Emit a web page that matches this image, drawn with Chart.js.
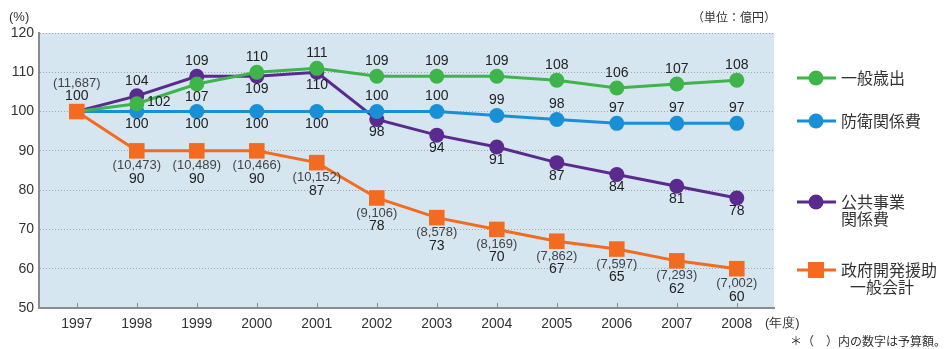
<!DOCTYPE html>
<html>
<head>
<meta charset="utf-8">
<script src="https://cdn.jsdelivr.net/npm/chart.js@4"></script>
<style>
  body { margin: 0; background: #fff; }
  #wrap { width: 947px; height: 349px; position: relative; }
</style>
</head>
<body>
<div id="wrap"><canvas id="myChart" width="947" height="349"></canvas></div>
<script>
// data
const years = [1997, 1998, 1999, 2000, 2001, 2002, 2003, 2004, 2005, 2006, 2007, 2008];
const yearLabels = ['1997', '1998', '1999', '2000', '2001', '2002', '2003', '2004', '2005', '2006', '2007', '2008'];
const seriesNames = ['一般歳出', '防衛関係費', '公共事業関係費', '政府開発援助一般会計'];
const generalSpending = [100, 102, 107, 110, 111, 109, 109, 109, 108, 106, 107, 108];
const defense = [100, 100, 100, 100, 100, 100, 100, 99, 98, 97, 97, 97];
const publicWorks = [100, 104, 109, 109, 110, 98, 94, 91, 87, 84, 81, 78];
const oda = [100, 90, 90, 90, 87, 78, 73, 70, 67, 65, 62, 60];
const odaBudget = ['11,687', '10,473', '10,489', '10,466', '10,152', '9,106', '8,578', '8,169', '7,862', '7,597', '7,293', '7,002'];
const yTicks = [50, 60, 70, 80, 90, 100, 110, 120];

// where each value label sits: a = above, b = below, r = right, '' = none
const labelPos = [
  ['', 'r', 'b', 'a', 'a', 'a', 'a', 'a', 'a', 'a', 'a', 'a'],
  ['', 'b', 'b', 'b', 'b', 'a', 'a', 'a', 'a', 'a', 'a', 'a'],
  ['', 'a', 'a', 'b', 'b', 'b', 'b', 'b', 'b', 'b', 'b', 'b'],
  ['a', 'b', 'b', 'b', 'b', 'b', 'b', 'b', 'b', 'b', 'b', 'b']
];

const colors = ['#3fb44b', '#1b8fd6', '#5b2a8f', '#f36b21'];
const numFont = '14px "Liberation Sans", Arial, sans-serif';
const smallFont = '13px "Liberation Sans", Arial, sans-serif';
const jpFont = '"Noto Sans CJK JP", sans-serif';

const toPts = arr => arr.map((v, i) => ({x: years[i], y: v}));

const plotBg = {
  id: 'plotBg',
  beforeDraw(chart) {
    const {ctx, chartArea: a} = chart;
    ctx.save();
    ctx.fillStyle = '#d5e6f1';
    ctx.fillRect(a.left, a.top, a.right - a.left, a.bottom - a.top);
    ctx.restore();
  },
  afterDraw(chart) {
    const {ctx, chartArea: a, scales} = chart;
    ctx.save();
    // small tick marks on the x axis
    ctx.strokeStyle = '#8c8c8c';
    ctx.lineWidth = 1;
    years.forEach(yr => {
      const x = Math.round(scales.x.getPixelForValue(yr)) + 0.5;
      ctx.beginPath();
      ctx.moveTo(x, a.bottom - 5);
      ctx.lineTo(x, a.bottom);
      ctx.stroke();
    });
    ctx.fillStyle = '#333';
    ctx.font = smallFont;
    ctx.textBaseline = 'middle';
    ctx.textAlign = 'left';
    ctx.fillText('(%)', 9, 17);
    ctx.fillText('(年度)', 765, 323);
    ctx.font = '12px ' + jpFont;
    ctx.textAlign = 'right';
    ctx.fillText('（単位：億円）', 776, 17);
    ctx.fillText('＊（　）内の数字は予算額。', 946, 341);

    // legend
    const items = [
      {y: 78, lines: ['一般歳出'], dx: [0]},
      {y: 121, lines: ['防衛関係費'], dx: [0]},
      {y: 202, lines: ['公共事業', '関係費'], dx: [0, 0]},
      {y: 270, lines: ['政府開発援助', '一般会計'], dx: [0, 9]}
    ];
    items.forEach((it, i) => {
      ctx.strokeStyle = colors[i];
      ctx.fillStyle = colors[i];
      ctx.lineWidth = 3;
      ctx.beginPath();
      ctx.moveTo(797, it.y);
      ctx.lineTo(836, it.y);
      ctx.stroke();
      if (i === 3) {
        ctx.fillRect(808, it.y - 8, 16, 16);
      } else {
        ctx.beginPath();
        ctx.arc(816, it.y, 7.5, 0, Math.PI * 2);
        ctx.fill();
      }
      ctx.fillStyle = '#333';
      ctx.font = '16px ' + jpFont;
      ctx.textAlign = 'left';
      it.lines.forEach((t, k) => ctx.fillText(t, 841 + it.dx[k], it.y + k * 17));
    });
    ctx.restore();
  }
};

const valueLabels = {
  id: 'valueLabels',
  afterDatasetsDraw(chart) {
    const {ctx} = chart;
    ctx.save();
    ctx.textAlign = 'center';
    ctx.textBaseline = 'middle';
    chart.data.datasets.forEach((ds, di) => {
      const meta = chart.getDatasetMeta(di);
      meta.data.forEach((pt, j) => {
        const pos = labelPos[di][j];
        if (!pos) return;
        const v = String(ds.data[j].y);
        ctx.fillStyle = '#222';
        ctx.font = numFont;
        if (di === 3) {
          const b = '(' + odaBudget[j] + ')';
          const y1 = pos === 'a' ? pt.y - 28 : pt.y + 15;
          ctx.fillStyle = '#444';
          ctx.font = smallFont;
          ctx.fillText(b, pt.x, y1);
          ctx.fillStyle = '#222';
          ctx.font = numFont;
          ctx.fillText(v, pt.x, y1 + 13);
        } else if (pos === 'a') {
          ctx.fillText(v, pt.x, pt.y - 15);
        } else if (pos === 'b') {
          ctx.fillText(v, pt.x, pt.y + 13);
        } else if (pos === 'r') {
          ctx.fillText(v, pt.x + 22, pt.y - 2);
        }
      });
    });
    ctx.restore();
  }
};

const ctx = document.getElementById('myChart').getContext('2d');
const myChart = new Chart(ctx, {
  type: 'line',
  data: {
    datasets: [
      {label: seriesNames[0], data: toPts(generalSpending), borderColor: colors[0], backgroundColor: colors[0], order: 1},
      {label: seriesNames[1], data: toPts(defense), borderColor: colors[1], backgroundColor: colors[1], order: 2},
      {label: seriesNames[2], data: toPts(publicWorks), borderColor: colors[2], backgroundColor: colors[2], order: 3},
      {label: seriesNames[3], data: toPts(oda), borderColor: colors[3], backgroundColor: colors[3], order: 0,
        pointStyle: 'rect', pointRadius: 11, pointHoverRadius: 11}
    ]
  },
  options: {
    responsive: false,
    animation: false,
    events: [],
    elements: {
      line: {borderWidth: 3, tension: 0},
      point: {radius: 7.5, borderWidth: 0, hoverRadius: 7.5}
    },
    layout: {padding: {top: 33, right: 173, left: 0, bottom: 0}},
    plugins: {
      legend: {display: false},
      tooltip: {enabled: false}
    },
    scales: {
      x: {
        type: 'linear',
        min: 1996.37,
        max: 2008.62,
        afterBuildTicks: s => { s.ticks = years.map(v => ({value: v})); },
        afterFit: s => { s.height = 41; },
        grid: {display: false, drawTicks: false},
        border: {display: true, color: '#8c8c8c', width: 2},
        ticks: {
          padding: 8,
          color: '#333',
          font: {family: '"Liberation Sans", Arial, sans-serif', size: 14},
          callback: (v) => yearLabels[years.indexOf(v)]
        }
      },
      y: {
        min: 50,
        max: 120,
        afterBuildTicks: s => { s.ticks = yTicks.map(v => ({value: v})); },
        afterFit: s => { s.width = 39; },
        grid: {color: '#9ea6ab', lineWidth: 1, drawTicks: false},
        border: {display: true, color: '#8c8c8c', width: 2, dash: [1, 2]},
        ticks: {
          padding: 5,
          color: '#333',
          font: {family: '"Liberation Sans", Arial, sans-serif', size: 14}
        }
      }
    }
  },
  plugins: [plotBg, valueLabels]
});
</script>
</body>
</html>
